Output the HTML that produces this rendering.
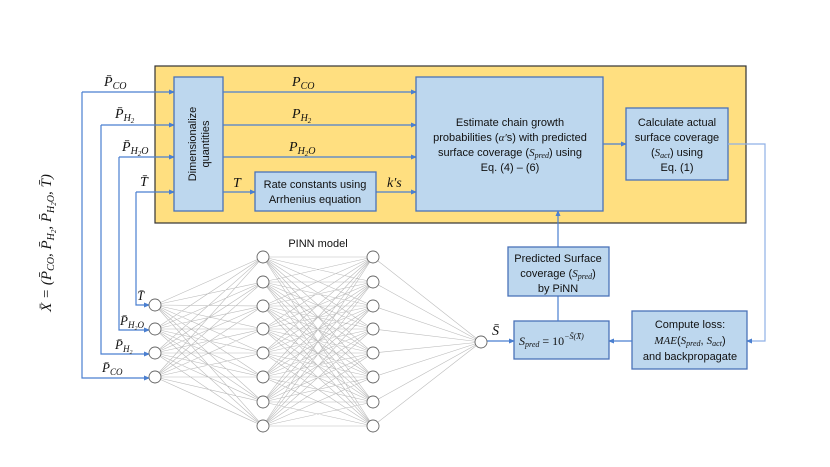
<!DOCTYPE html>
<html><head><meta charset="utf-8"><style>
body{margin:0;background:#fff}
svg{display:block}
.t{font-family:"Liberation Sans",sans-serif;font-size:11px;fill:#111}
.m{font-family:"Liberation Serif",serif;font-style:italic;fill:#111}
.b{fill:#bdd7ee;stroke:#4a72b8;stroke-width:1.3}
.l{stroke:#4a7fd0;stroke-width:1.2;fill:none}
.nn{stroke:#bbb;stroke-width:0.6;fill:none}
.n{fill:#fff;stroke:#666;stroke-width:0.9}
</style></head><body>
<svg width="830" height="467" viewBox="0 0 830 467" xmlns="http://www.w3.org/2000/svg">
<defs><marker id="a" markerWidth="6" markerHeight="6" refX="5" refY="3" orient="auto" markerUnits="userSpaceOnUse"><path d="M0,0.5 L6,3 L0,5.5z" fill="#4a7fd0"/></marker></defs>
<rect x="155" y="66" width="591" height="157" fill="#ffdf80" stroke="#333" stroke-width="1.2"/>
<path class="l" d="M82 92 H174" marker-end="url(#a)"/>
<path class="l" d="M101 125 H174" marker-end="url(#a)"/>
<path class="l" d="M119 157 H174" marker-end="url(#a)"/>
<path class="l" d="M136 192 H174" marker-end="url(#a)"/>
<path class="l" d="M82 92 V378 H149" marker-end="url(#a)"/>
<path class="l" d="M101 125 V354 H149" marker-end="url(#a)"/>
<path class="l" d="M119 157 V330 H149" marker-end="url(#a)"/>
<path class="l" d="M136 192 V305 H149" marker-end="url(#a)"/>
<text class="m" x="104" y="86" font-size="14">P̄<tspan font-size="10" dy="3">CO</tspan></text>
<text class="m" x="115" y="118" font-size="14">P̄<tspan font-size="10" dy="3">H</tspan><tspan font-size="7" dy="2">2</tspan></text>
<text class="m" x="122" y="151" font-size="14">P̄<tspan font-size="10" dy="3">H</tspan><tspan font-size="7" dy="2">2</tspan><tspan font-size="10" dy="-2">O</tspan></text>
<text class="m" x="140" y="186" font-size="14">T̄</text>
<text class="m" x="137" y="300" font-size="13">T̄</text>
<text class="m" x="120" y="325" font-size="13">P̄<tspan font-size="9" dy="3">H</tspan><tspan font-size="6" dy="2">2</tspan><tspan font-size="9" dy="-2">O</tspan></text>
<text class="m" x="115" y="349" font-size="13">P̄<tspan font-size="9" dy="3">H</tspan><tspan font-size="6" dy="2">2</tspan></text>
<text class="m" x="102" y="372" font-size="13">P̄<tspan font-size="9" dy="3">CO</tspan></text>
<text class="m" transform="translate(51,243) rotate(-90)" text-anchor="middle" font-size="15">X̄ = (P̄<tspan font-size="10" dy="3">CO</tspan><tspan dy="-3">, P̄</tspan><tspan font-size="10" dy="3">H</tspan><tspan font-size="7" dy="2">2</tspan><tspan dy="-5">, P̄</tspan><tspan font-size="10" dy="3">H</tspan><tspan font-size="7" dy="2">2</tspan><tspan font-size="10" dy="-2">O</tspan><tspan dy="-3">, T̄)</tspan></text>
<rect class="b" x="174" y="77" width="49" height="134"/>
<text class="t" transform="translate(196,144) rotate(-90)" text-anchor="middle" font-size="11.5">Dimensionalize</text>
<text class="t" transform="translate(209,144) rotate(-90)" text-anchor="middle" font-size="11.5">quantities</text>
<path class="l" d="M223 92 H416" marker-end="url(#a)"/>
<path class="l" d="M223 125 H416" marker-end="url(#a)"/>
<path class="l" d="M223 157 H416" marker-end="url(#a)"/>
<path class="l" d="M223 192 H255" marker-end="url(#a)"/>
<path class="l" d="M376 192 H416" marker-end="url(#a)"/>
<text class="m" x="292" y="86" font-size="14">P<tspan font-size="10" dy="3">CO</tspan></text>
<text class="m" x="292" y="118" font-size="14">P<tspan font-size="10" dy="3">H</tspan><tspan font-size="7" dy="2">2</tspan></text>
<text class="m" x="289" y="151" font-size="14">P<tspan font-size="10" dy="3">H</tspan><tspan font-size="7" dy="2">2</tspan><tspan font-size="10" dy="-2">O</tspan></text>
<text class="m" x="233" y="187" font-size="14">T</text>
<text class="m" x="387" y="187" font-size="14">k′s</text>
<rect class="b" x="255" y="172" width="121" height="39"/>
<text class="t" x="315" y="188" text-anchor="middle">Rate constants using</text>
<text class="t" x="315" y="203" text-anchor="middle">Arrhenius equation</text>
<rect class="b" x="416" y="77" width="187" height="134"/>
<text class="t" x="510" y="126" text-anchor="middle" font-size="11.5">Estimate chain growth</text>
<text class="t" x="510" y="141" text-anchor="middle" font-size="11.5">probabilities (<tspan class="m">α′</tspan>s) with predicted</text>
<text class="t" x="510" y="156" text-anchor="middle" font-size="11.5">surface coverage (<tspan class="m">S</tspan><tspan class="m" font-size="8" dy="2">pred</tspan><tspan dy="-2">) using</tspan></text>
<text class="t" x="510" y="171" text-anchor="middle" font-size="11.5">Eq. (4) – (6)</text>
<path class="l" d="M603 144 H626" marker-end="url(#a)"/>
<rect class="b" x="626" y="108" width="102" height="72"/>
<text class="t" x="677" y="126" text-anchor="middle" font-size="11.5">Calculate actual</text>
<text class="t" x="677" y="141" text-anchor="middle" font-size="11.5">surface coverage</text>
<text class="t" x="677" y="156" text-anchor="middle" font-size="11.5">(<tspan class="m">S</tspan><tspan class="m" font-size="8" dy="2">act</tspan><tspan dy="-2">) using</tspan></text>
<text class="t" x="677" y="171" text-anchor="middle" font-size="11.5">Eq. (1)</text>
<path d="M728 144 H765 V341 H747" stroke="#8fb0e6" stroke-width="1.2" fill="none" marker-end="url(#a)"/>
<rect class="b" x="632" y="311" width="115" height="58"/>
<text class="t" x="690" y="328" text-anchor="middle" font-size="11.5">Compute loss:</text>
<text class="t" x="690" y="344" text-anchor="middle"><tspan class="m">MAE</tspan>(<tspan class="m">S</tspan><tspan class="m" font-size="8" dy="2">pred</tspan><tspan dy="-2">, </tspan><tspan class="m">S</tspan><tspan class="m" font-size="8" dy="2">act</tspan><tspan dy="-2">)</tspan></text>
<text class="t" x="690" y="360" text-anchor="middle" font-size="11.5">and backpropagate</text>
<path class="l" d="M632 341 H609" marker-end="url(#a)"/>
<rect class="b" x="514" y="321" width="95" height="38"/>
<text class="m" x="519" y="345" font-size="12">S<tspan font-size="8" dy="2">pred</tspan><tspan dy="-2" font-style="normal"> = 10</tspan><tspan font-size="8" dy="-6">−S̄(X̄)</tspan></text>
<path class="l" d="M558 321 V211" marker-end="url(#a)"/>
<rect class="b" x="508" y="247" width="101" height="49"/>
<text class="t" x="558" y="262" text-anchor="middle" font-size="11.5">Predicted Surface</text>
<text class="t" x="558" y="277" text-anchor="middle" font-size="11.5">coverage (<tspan class="m">S</tspan><tspan class="m" font-size="8" dy="2">pred</tspan><tspan dy="-2">)</tspan></text>
<text class="t" x="558" y="292" text-anchor="middle" font-size="11.5">by PiNN</text>
<path class="l" d="M487 341 H514" marker-end="url(#a)"/>
<text class="m" x="492" y="335" font-size="14">S̄</text>
<text class="t" x="318" y="247" text-anchor="middle" font-size="12">PINN model</text>
<path class="nn" d="
M155 305L263 257M155 305L263 282M155 305L263 306M155 305L263 329M155 305L263 353M155 305L263 377M155 305L263 402M155 305L263 426
M155 329L263 257M155 329L263 282M155 329L263 306M155 329L263 329M155 329L263 353M155 329L263 377M155 329L263 402M155 329L263 426
M155 353L263 257M155 353L263 282M155 353L263 306M155 353L263 329M155 353L263 353M155 353L263 377M155 353L263 402M155 353L263 426
M155 377L263 257M155 377L263 282M155 377L263 306M155 377L263 329M155 377L263 353M155 377L263 377M155 377L263 402M155 377L263 426
M263 257L373 257M263 257L373 282M263 257L373 306M263 257L373 329M263 257L373 353M263 257L373 377M263 257L373 402M263 257L373 426
M263 282L373 257M263 282L373 282M263 282L373 306M263 282L373 329M263 282L373 353M263 282L373 377M263 282L373 402M263 282L373 426
M263 306L373 257M263 306L373 282M263 306L373 306M263 306L373 329M263 306L373 353M263 306L373 377M263 306L373 402M263 306L373 426
M263 329L373 257M263 329L373 282M263 329L373 306M263 329L373 329M263 329L373 353M263 329L373 377M263 329L373 402M263 329L373 426
M263 353L373 257M263 353L373 282M263 353L373 306M263 353L373 329M263 353L373 353M263 353L373 377M263 353L373 402M263 353L373 426
M263 377L373 257M263 377L373 282M263 377L373 306M263 377L373 329M263 377L373 353M263 377L373 377M263 377L373 402M263 377L373 426
M263 402L373 257M263 402L373 282M263 402L373 306M263 402L373 329M263 402L373 353M263 402L373 377M263 402L373 402M263 402L373 426
M263 426L373 257M263 426L373 282M263 426L373 306M263 426L373 329M263 426L373 353M263 426L373 377M263 426L373 402M263 426L373 426
M373 257L481 342M373 282L481 342M373 306L481 342M373 329L481 342M373 353L481 342M373 377L481 342M373 402L481 342M373 426L481 342"/>
<g class="n">
<circle cx="155" cy="305" r="6"/><circle cx="155" cy="329" r="6"/><circle cx="155" cy="353" r="6"/><circle cx="155" cy="377" r="6"/>
<circle cx="263" cy="257" r="6"/><circle cx="263" cy="282" r="6"/><circle cx="263" cy="306" r="6"/><circle cx="263" cy="329" r="6"/><circle cx="263" cy="353" r="6"/><circle cx="263" cy="377" r="6"/><circle cx="263" cy="402" r="6"/><circle cx="263" cy="426" r="6"/>
<circle cx="373" cy="257" r="6"/><circle cx="373" cy="282" r="6"/><circle cx="373" cy="306" r="6"/><circle cx="373" cy="329" r="6"/><circle cx="373" cy="353" r="6"/><circle cx="373" cy="377" r="6"/><circle cx="373" cy="402" r="6"/><circle cx="373" cy="426" r="6"/>
<circle cx="481" cy="342" r="6"/>
</g>
</svg>
</body></html>
